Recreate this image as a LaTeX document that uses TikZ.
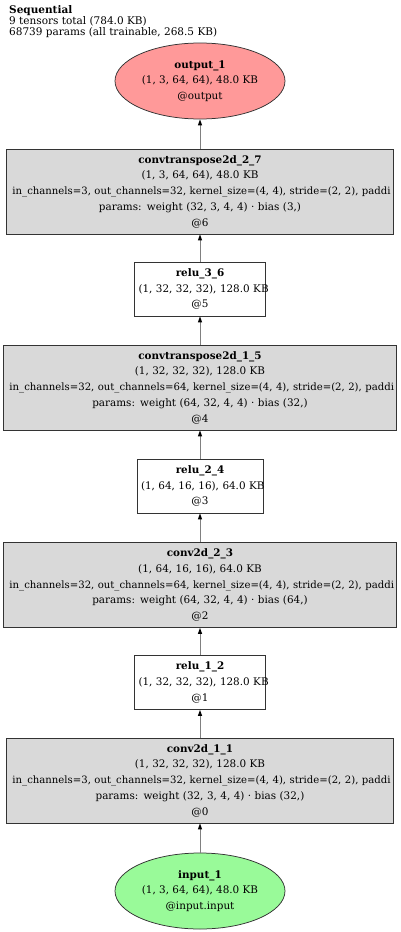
\documentclass[tikz,border=0pt]{standalone}
\usepackage{fontspec}
\setmainfont{DejaVu Serif}
\usetikzlibrary{arrows.meta,positioning,shapes.geometric}

\definecolor{outred}{RGB}{255,153,153}
\definecolor{ingreen}{RGB}{153,250,153}
\definecolor{layergray}{RGB}{217,217,217}

\begin{document}
\begin{tikzpicture}[x=1pt,y=-1pt,
  every node/.style={font=\fontsize{10.4}{15.75}\selectfont},
  layerbox/.style={rectangle,draw=black!80,line width=0.75pt,fill=layergray,minimum height=85pt,
    text width=371pt,inner xsep=8pt,inner ysep=0pt,align=center},
  relubox/.style={rectangle,draw=black!80,line width=0.75pt,fill=white,minimum height=54pt,
    text width=123pt,inner xsep=4pt,inner ysep=0pt,align=center},
  endpoint/.style={ellipse,draw=black!80,line width=0.75pt,minimum width=170pt,minimum height=76pt,
    inner sep=0pt,align=center},
  flow/.style={draw=black!50,line width=1pt,-{Triangle[length=6pt,width=4pt,black]}}]
\newcommand{\longline}[1]{\mbox{\fontsize{10.1}{15.75}\selectfont\hspace*{-2pt}#1}}
\useasboundingbox (0,0) rectangle (400,932);
\clip (0,0) rectangle (400,932);
% summary of the model
\node[anchor=north west,align=left,inner sep=0pt,
  font=\fontsize{10.5}{11}\selectfont] (summary) at (9,5)
  {\textbf{Sequential}\\9 tensors total (784.0 KB)\\68739 params (all trainable, 268.5 KB)};
% output
\node[endpoint,fill=outred] (output1) at (200,81)
  {\textbf{output\_1}\\(1, 3, 64, 64), 48.0 KB\\@output};
% layers, top to bottom
\node[layerbox] (ctrans27) at (200,191.5)
  {\textbf{convtranspose2d\_2\_7}\\(1, 3, 64, 64), 48.0 KB\\
   \longline{in\_channels=3, out\_channels=32, kernel\_size=(4, 4), stride=(2, 2), paddi}\\
   params: weight (32, 3, 4, 4) · bias (3,)\\@6};
\node[relubox] (relu36) at (200,289)
  {\textbf{relu\_3\_6}\\\mbox{(1, 32, 32, 32), 128.0 KB}\\@5};
\node[layerbox,text width=377pt] (ctrans15) at (200,387.5)
  {\textbf{convtranspose2d\_1\_5}\\(1, 32, 32, 32), 128.0 KB\\
   \longline{in\_channels=32, out\_channels=64, kernel\_size=(4, 4), stride=(2, 2), paddi}\\
   params: weight (64, 32, 4, 4) · bias (32,)\\@4};
\node[relubox,text width=118pt] (relu24) at (200,486)
  {\textbf{relu\_2\_4}\\\mbox{(1, 64, 16, 16), 64.0 KB}\\@3};
\node[layerbox,text width=377pt] (conv23) at (200,585)
  {\textbf{conv2d\_2\_3}\\(1, 64, 16, 16), 64.0 KB\\
   \longline{in\_channels=32, out\_channels=64, kernel\_size=(4, 4), stride=(2, 2), paddi}\\
   params: weight (64, 32, 4, 4) · bias (64,)\\@2};
\node[relubox] (relu12) at (200,682.5)
  {\textbf{relu\_1\_2}\\\mbox{(1, 32, 32, 32), 128.0 KB}\\@1};
\node[layerbox] (conv11) at (200,780.5)
  {\textbf{conv2d\_1\_1}\\(1, 32, 32, 32), 128.0 KB\\
   \longline{in\_channels=3, out\_channels=32, kernel\_size=(4, 4), stride=(2, 2), paddi}\\
   params: weight (32, 3, 4, 4) · bias (32,)\\@0};
% input
\node[endpoint,fill=ingreen] (input1) at (200,891)
  {\textbf{input\_1}\\(1, 3, 64, 64), 48.0 KB\\@input.input};
% data flow
\draw[flow] (input1) -- (conv11);
\draw[flow] (conv11) -- (relu12);
\draw[flow] (relu12) -- (conv23);
\draw[flow] (conv23) -- (relu24);
\draw[flow] (relu24) -- (ctrans15);
\draw[flow] (ctrans15) -- (relu36);
\draw[flow] (relu36) -- (ctrans27);
\draw[flow] (ctrans27) -- (output1);
\end{tikzpicture}
\end{document}
